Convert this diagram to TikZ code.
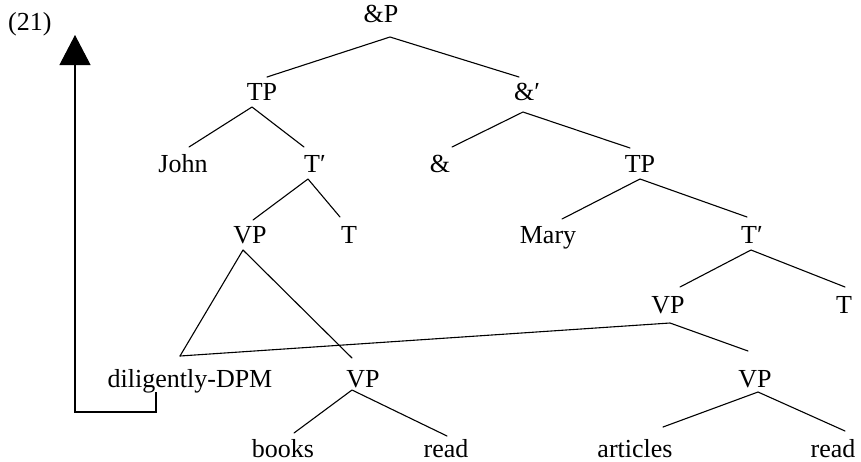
\documentclass[tikz,border=0pt]{standalone}
\usepackage{fontspec}
\setmainfont{Liberation Serif}
\usetikzlibrary{arrows.meta}
\tikzset{
  lbl/.style={anchor=base, inner sep=0pt, font=\fontsize{26}{30}\selectfont},
  edge/.style={line width=1.1pt, line cap=round, line join=round}
}
\begin{document}
\begin{tikzpicture}[x=1pt, y=-1pt]
\useasboundingbox (0,0) rectangle (861,461);
% nodes
\node[lbl, anchor=base west] (num) at (8,30) {(21)};
\node[lbl] (andP) at (381,22) {\&P};
\node[lbl] (TPa) at (262,100) {TP};
\node[lbl] (andbar) at (527,100) {\&′};
\node[lbl] (John) at (183,172) {John};
\node[lbl] (Tbara) at (315,172) {T′};
\node[lbl] (amp) at (440,172) {\&};
\node[lbl] (TPb) at (640,172) {TP};
\node[lbl] (VPa) at (250,243) {VP};
\node[lbl] (Ta) at (349,243) {T};
\node[lbl] (Mary) at (548,243) {Mary};
\node[lbl] (Tbarb) at (752,243) {T′};
\node[lbl] (VPb) at (668,313) {VP};
\node[lbl] (Tb) at (844,313) {T};
\node[lbl] (dil) at (190,387) {diligently-DPM};
\node[lbl] (VPc) at (363,387) {VP};
\node[lbl] (VPd) at (755,387) {VP};
\node[lbl] (books) at (283,457) {books};
\node[lbl] (reada) at (446,457) {read};
\node[lbl] (articles) at (635,457) {articles};
\node[lbl] (readb) at (833,457) {read};
% connectors
\draw[edge] ([xshift=5pt,yshift=23pt]TPa.base) -- ([xshift=9pt,yshift=-15pt]andP.base) -- ([xshift=-8pt,yshift=23pt]andbar.base);
\draw[edge] ([xshift=6pt,yshift=25pt]John.base) -- ([xshift=-10pt,yshift=-7pt]TPa.base) -- ([xshift=-11pt,yshift=25pt]Tbara.base);
\draw[edge] ([xshift=12pt,yshift=25pt]amp.base) -- ([xshift=-4pt,yshift=-12pt]andbar.base) -- ([xshift=-10pt,yshift=24pt]TPb.base);
\draw[edge] ([xshift=3pt,yshift=23pt]VPa.base) -- ([xshift=-7pt,yshift=-7pt]Tbara.base) -- ([xshift=-9pt,yshift=26pt]Ta.base);
\draw[edge] ([xshift=14pt,yshift=24pt]Mary.base) -- ([xshift=0pt,yshift=-7pt]TPb.base) -- ([xshift=-5pt,yshift=26pt]Tbarb.base);
\draw[edge] ([xshift=12pt,yshift=26pt]VPb.base) -- ([xshift=-1pt,yshift=-7pt]Tbarb.base) -- ([xshift=1pt,yshift=26pt]Tb.base);
\draw[edge] ([xshift=-10pt,yshift=31pt]dil.base) -- ([xshift=2pt,yshift=-10pt]VPb.base) -- ([xshift=-7pt,yshift=36pt]VPd.base);
\draw[edge] ([xshift=-10pt,yshift=31pt]dil.base) -- ([xshift=-7pt,yshift=-7pt]VPa.base) -- ([xshift=-11pt,yshift=29pt]VPc.base);
\draw[edge] ([xshift=11pt,yshift=24pt]books.base) -- ([xshift=-11pt,yshift=-3pt]VPc.base) -- ([xshift=1pt,yshift=21pt]reada.base);
\draw[edge] ([xshift=28pt,yshift=30pt]articles.base) -- ([xshift=3pt,yshift=-5pt]VPd.base) -- ([xshift=12pt,yshift=26pt]readb.base);
% movement arrow
\coordinate (corner) at (75,412);
\coordinate (tip) at (75,35);
\draw[line width=1.1pt, -{Triangle[width=31pt,length=30pt]}] ([xshift=-34pt,yshift=-5pt]dil.base) |- (corner) -- (tip);
\end{tikzpicture}
\end{document}
